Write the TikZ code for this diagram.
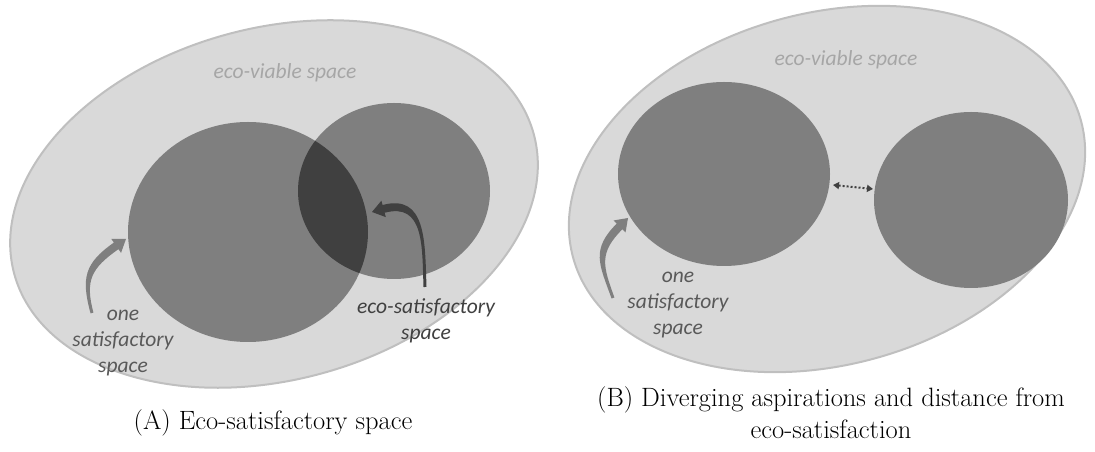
\documentclass[tikz,border=0pt]{standalone}
\usepackage{fontspec}
\usepackage{tikz}
\usetikzlibrary{arrows.meta,calc}
\newfontfamily\calibfont{Carlito}
\definecolor{viable}{HTML}{D9D9D9}
\definecolor{rim}{HTML}{BFBFBF}
\definecolor{satis}{HTML}{7F7F7F}
\definecolor{overlap}{HTML}{404040}
\definecolor{lblgray}{HTML}{595959}
\definecolor{faint}{HTML}{A6A6A6}
\newcommand{\taperarrow}[5]{%
  \pgfmathsetmacro\tback{#5+180}%
  \pgfmathsetmacro\tleft{#5+90}%
  \pgfmathsetmacro\tright{#5-90}%
  \pgfmathsetmacro\oleft{#4+90}%
  \pgfmathsetmacro\oright{#4-90}%
  \fill[#1] ($(#2)+(\oleft:1.5)$) to[out=#4, in=\tback, looseness=1.25] ($(#3)+(\tback:12)+(\tleft:4)$)
    -- ($(#3)+(\tback:12)+(\tleft:8.5)$) -- (#3)
    -- ($(#3)+(\tback:12)+(\tright:8.5)$) -- ($(#3)+(\tback:12)+(\tright:4)$)
    to[out=\tback, in=#4, looseness=1.25] ($(#2)+(\oright:1.5)$) -- cycle;}
\begin{document}
\begin{tikzpicture}[
  x=1pt, y=1pt,
  zone/.style={fill=viable, draw=rim, line width=2pt},
  blob/.style={fill=satis},
  lbl/.style={font=\calibfont\itshape\fontsize{21.5}{26}\selectfont, text=lblgray, align=center, inner sep=0pt},
  subcap/.style={font=\fontsize{26.5}{32}\selectfont, align=center, inner sep=0pt},
  gaparr/.style={overlap, line width=2pt, dotted, {Triangle[length=6pt,width=7pt]}-{Triangle[length=6pt,width=7pt]}}
]
\useasboundingbox (0,0) rectangle (1095,452);

\filldraw[zone, rotate around={15:(274,248)}] (274,248) ellipse [x radius=269, y radius=176];
\fill[blob] (248,220) ellipse [x radius=120, y radius=110];
\fill[blob] (394,261) ellipse [x radius=96, y radius=88];
\begin{scope}
  \clip (248,220) ellipse [x radius=120, y radius=110];
  \fill[overlap] (394,261) ellipse [x radius=96, y radius=88];
\end{scope}
\node[lbl, text=faint] (viableA) at (285,379) {eco-viable space};
\node[lbl] (oneA) at (123,109) {one\\satisfactory\\space};
\node[lbl, text=overlap] (ecoA) at (426,131) {eco-satisfactory\\space};
\coordinate (tailA) at (92,139);
\coordinate (tipA) at (126,213);
\coordinate (tailE) at (425,165);
\coordinate (tipE) at (372,240);
\taperarrow{satis}{tailA}{tipA}{105}{35}
\taperarrow{overlap}{tailE}{tipE}{92}{195}
\node[subcap, anchor=base] (capA) at (273,22) {(A) Eco-satisfactory space};

\filldraw[zone, rotate around={15:(827,263)}] (827,263) ellipse [x radius=263, y radius=176];
\fill[blob] (724,278) ellipse [x radius=106, y radius=92];
\fill[blob] (971,252) ellipse [x radius=97, y radius=88];
\node[lbl, text=faint] (viableB) at (846,392) {eco-viable space};
\node[lbl] (oneB) at (678,147) {one\\satisfactory\\space};
\coordinate (tailB) at (613,154);
\coordinate (tipB) at (628,234);
\coordinate (gapL) at (833,267);
\coordinate (gapR) at (873,263);
\taperarrow{satis}{tailB}{tipB}{110}{45}
\draw[gaparr] (gapL) -- (gapR);
\node[subcap, anchor=north] (capB) at (831,66) {(B) Diverging aspirations and distance from\\eco-satisfaction};
\end{tikzpicture}
\end{document}
